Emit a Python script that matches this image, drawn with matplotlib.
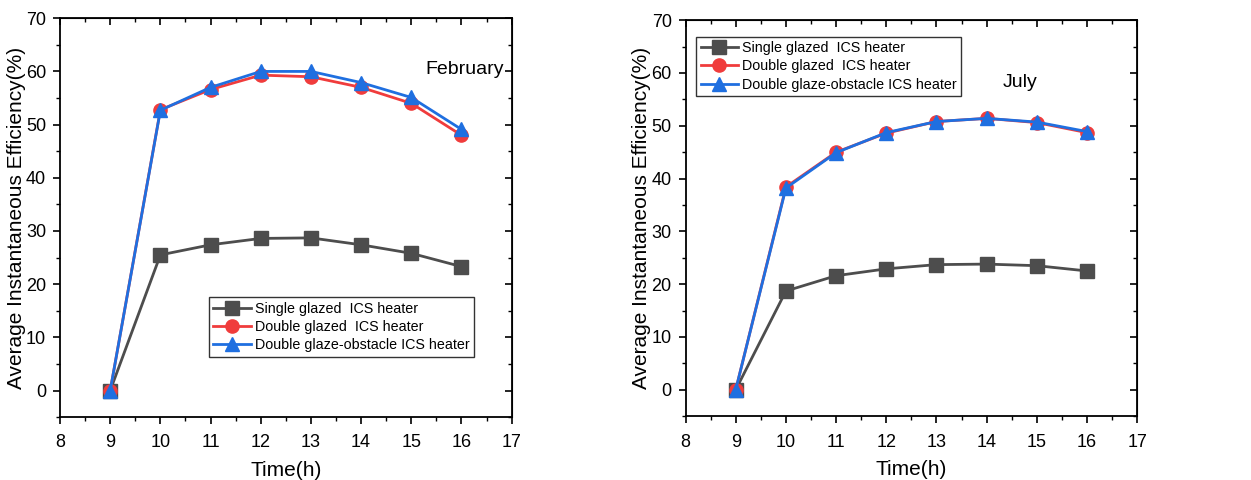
import matplotlib
matplotlib.use("Agg")
import matplotlib.pyplot as plt
from matplotlib.ticker import MultipleLocator

plt.rcParams['font.family'] = ['Liberation Sans', 'DejaVu Sans']

hours = [9, 10, 11, 12, 13, 14, 15, 16]

# February
feb_single = [0, 25.5, 27.4, 28.6, 28.7, 27.4, 25.8, 23.3]
feb_double = [0, 52.8, 56.6, 59.3, 59.0, 57.0, 54.0, 48.0]
feb_obstacle = [0, 52.7, 57.0, 60.0, 60.0, 57.9, 55.1, 49.1]

# July
jul_single = [0, 18.7, 21.6, 22.9, 23.7, 23.8, 23.5, 22.5]
jul_double = [0, 38.4, 45.0, 48.6, 50.8, 51.4, 50.6, 48.7]
jul_obstacle = [0, 38.2, 44.9, 48.7, 50.8, 51.4, 50.7, 48.9]

labels = ['Single glazed  ICS heater', 'Double glazed  ICS heater',
          'Double glaze-obstacle ICS heater']
colors = ['#4d4d4d', '#f03c3c', '#1f6fe0']
markers = ['s', 'o', '^']

fig = plt.figure(figsize=(12.51, 4.8), dpi=100)
ax1 = fig.add_axes([0.048, 0.131, 0.361, 0.831])
ax2 = fig.add_axes([0.548, 0.133, 0.361, 0.825])


def style_axes(ax):
    ax.set_xlim(8, 17)
    ax.set_ylim(-5, 70)
    ax.xaxis.set_major_locator(MultipleLocator(1))
    ax.xaxis.set_minor_locator(MultipleLocator(0.5))
    ax.yaxis.set_major_locator(MultipleLocator(10))
    ax.yaxis.set_minor_locator(MultipleLocator(5))
    for s in ax.spines.values():
        s.set_linewidth(1.3)
    ax.tick_params(which='major', direction='out', length=5, width=1.2, labelsize=13)
    ax.tick_params(axis='x', which='major', pad=7.5)
    ax.tick_params(axis='y', which='major', pad=5)
    ax.tick_params(which='minor', direction='out', length=3, width=1.0)
    # mirrored inward ticks on top and right
    top = ax.secondary_xaxis('top')
    top.xaxis.set_major_locator(MultipleLocator(1))
    top.xaxis.set_minor_locator(MultipleLocator(0.5))
    top.tick_params(which='major', direction='in', length=5, width=1.2, labeltop=False)
    top.tick_params(which='minor', direction='in', length=3, width=1.0)
    right = ax.secondary_yaxis('right')
    right.yaxis.set_major_locator(MultipleLocator(10))
    right.yaxis.set_minor_locator(MultipleLocator(5))
    right.tick_params(which='major', direction='in', length=5, width=1.2, labelright=False)
    right.tick_params(which='minor', direction='in', length=3, width=1.0)
    ax.set_xlabel('Time(h)', fontsize=15, labelpad=7)
    ax.set_ylabel('Average Instantaneous Efficiency(%)', fontsize=15, labelpad=0)


for ax, series, month, mpos, lpos in [
    (ax1, [feb_single, feb_double, feb_obstacle], 'February', (0.896, 0.872), (0.33, 0.30)),
    (ax2, [jul_single, jul_double, jul_obstacle], 'July', (0.741, 0.843), (0.024, 0.958)),
]:
    for vals, lab, c, m in zip(series, labels, colors, markers):
        ax.plot(hours, vals, color=c, marker=m, markersize=9.5, linewidth=2, label=lab)
    style_axes(ax)
    ax.text(mpos[0], mpos[1], month, transform=ax.transAxes, fontsize=14,
            ha='center', va='center')
    leg = ax.legend(loc='upper left', bbox_to_anchor=lpos, fontsize=10.3, frameon=True,
                    fancybox=False, edgecolor='black', handlelength=2.6,
                    handletextpad=0.3, borderpad=0.3, labelspacing=0.3,
                    borderaxespad=0)
    leg.get_frame().set_linewidth(1.0)

fig.savefig('out.png', dpi=100)
